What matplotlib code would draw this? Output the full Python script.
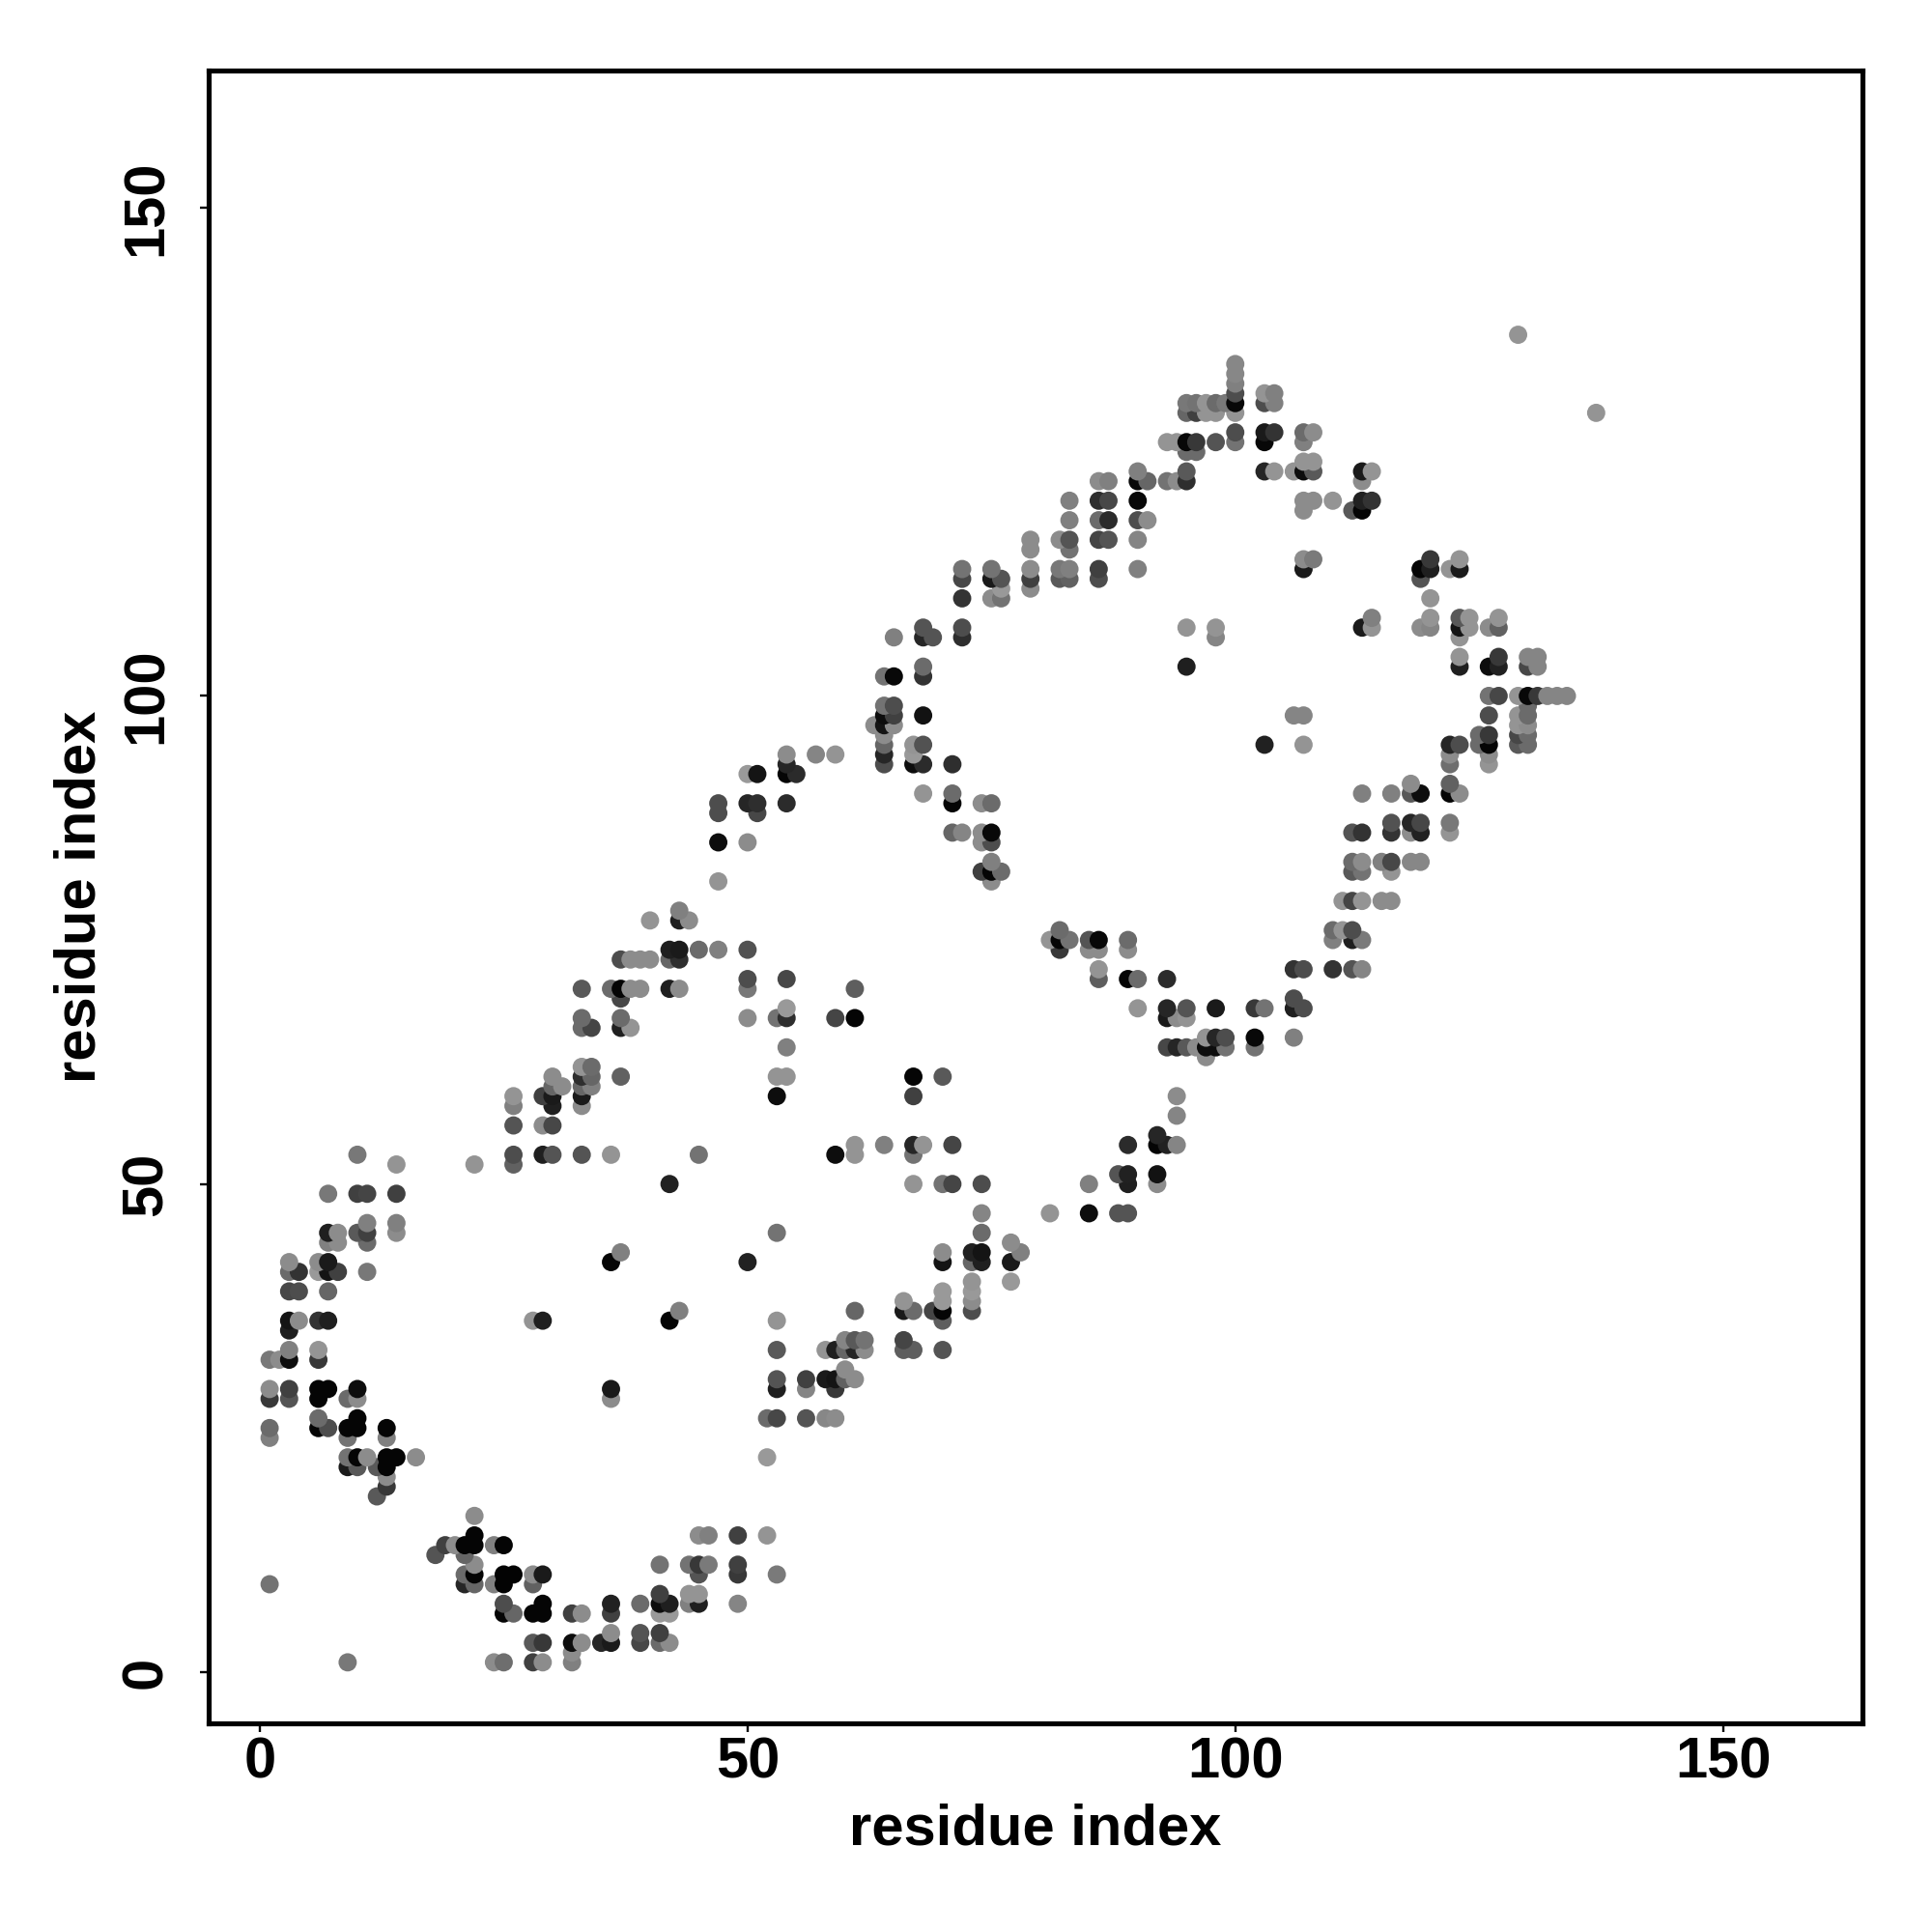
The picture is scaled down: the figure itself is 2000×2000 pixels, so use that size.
import matplotlib
matplotlib.use('Agg')
import matplotlib.pyplot as plt

# Contacts by row: row_y[i] is the residue on the y axis, row_x[i] its partners,
# row_shade[i] the grey level of each dot (0 black, 0.6 light grey)
row_y = [1, 2, 3, 4, 6, 7, 8, 9, 10, 11, 12, 13, 14, 16, 18, 19, 20, 21, 22, 24, 25, 26, 28, 29, 30, 31, 32,
         33, 34, 35, 36, 37, 38, 39, 40, 41, 42, 43, 44, 45, 46, 47, 49, 50, 51, 52, 53, 54, 55, 56, 57, 58,
         59, 60, 61, 62, 63, 64, 65, 66, 67, 68, 69, 70, 71, 72, 73, 74, 75, 76, 77, 78, 79, 81, 82, 83, 85,
         86, 87, 88, 89, 90, 91, 92, 93, 94, 95, 96, 97, 98, 99, 100, 102, 103, 104, 106, 107, 108, 110, 111,
         112, 113, 114, 115, 116, 118, 119, 120, 122, 123, 124, 125, 126, 127, 129, 130, 131, 132, 133, 134, 137]

row_x = [
    [9, 24, 25, 28, 29, 32],
    [32],
    [28, 29, 32, 33, 35, 36, 39, 41, 42],
    [36, 39, 41],
    [25, 26, 28, 29, 32, 33, 36, 41, 42],
    [25, 29, 36, 39, 41, 42, 44, 45, 49],
    [41, 44, 45],
    [1, 21, 22, 24, 25, 28],
    [21, 22, 25, 26, 28, 29, 45, 49, 53],
    [22, 41, 44, 45, 46, 49],
    [18, 21],
    [19, 20, 21, 22, 24, 25],
    [22, 45, 46, 49, 52],
    [22],
    [12],
    [13],
    [13],
    [9, 10, 12, 13],
    [9, 10, 11, 13, 14, 16, 52],
    [1, 9, 13],
    [1, 6, 7, 9, 10, 13],
    [6, 10, 52, 53, 56, 58, 59],
    [1, 3, 6, 9, 10, 36],
    [1, 3, 6, 7, 10, 36, 53, 56, 59],
    [53, 56, 58, 59, 60, 61],
    [60],
    [1, 2, 3, 6],
    [3, 6, 53, 58, 59, 60, 61, 62, 66, 67, 70],
    [60, 61, 62, 66],
    [3],
    [3, 4, 6, 7, 28, 29, 42, 53, 70],
    [43, 61, 66, 67, 69, 70, 73],
    [66, 70, 73],
    [3, 4, 7, 70, 73],
    [73, 77],
    [3, 4, 6, 7, 8, 11],
    [3, 6, 7, 36, 50, 70, 73, 74, 77],
    [37, 70, 73, 74, 78],
    [7, 8, 11, 77],
    [7, 8, 10, 11, 14, 53, 74],
    [11, 14],
    [74, 81, 85, 88, 89],
    [7, 10, 11, 14],
    [42, 67, 70, 71, 74, 85, 89, 92],
    [88, 89, 92],
    [14, 22, 26],
    [10, 26, 29, 30, 33, 36, 45, 59, 61, 67],
    [61, 64, 67, 68, 71, 89, 92, 93, 94],
    [92],
    [26, 29, 30],
    [94],
    [26, 30, 33],
    [26, 29, 30, 33, 53, 67, 94],
    [30, 31, 33, 34],
    [30, 33, 34, 37, 53, 54, 67, 70],
    [33, 34],
    [97],
    [54, 93, 94, 95, 96, 97, 98, 99, 102],
    [97, 98, 99, 102, 106],
    [33, 34, 37, 38],
    [33, 37, 50, 53, 54, 59, 61, 93, 94, 95],
    [54, 90, 93, 95, 98, 102, 103, 106, 107],
    [37, 106],
    [33, 36, 37, 38, 39, 42, 43, 50, 61],
    [50, 54, 86, 89, 90, 93],
    [86, 106, 107, 110, 112, 113],
    [37, 38, 39, 40, 42, 43],
    [42, 43, 45, 47, 50, 82, 85, 86, 89],
    [81, 82, 83, 85, 86, 89, 110, 112, 113],
    [82, 110, 111, 112],
    [40, 43, 44],
    [43],
    [111, 112, 113, 115, 116],
    [47, 75],
    [74, 75, 76, 112, 113, 116],
    [75, 112, 113, 115, 116, 118, 119],
    [47, 50, 74, 75],
    [71, 72, 74, 75, 112, 113, 116, 118, 119, 122],
    [116, 118, 119, 122],
    [47, 51],
    [47, 50, 51, 54, 71, 74, 75],
    [68, 71, 113, 116, 118, 119, 122, 123],
    [118, 122],
    [50, 51, 54, 55],
    [54, 64, 67, 68, 71, 122, 126],
    [54, 57, 59, 64, 67, 122, 126],
    [64, 67, 68, 103, 107, 122, 123, 125, 126, 129, 130],
    [64, 125, 126, 129, 130],
    [63, 64, 65, 129, 130],
    [64, 65, 68, 106, 107, 126, 129, 130],
    [64, 65, 130],
    [126, 127, 129, 130, 131, 132, 133, 134],
    [64, 65, 68],
    [68, 95, 123, 126, 127, 130, 131],
    [123, 127, 130, 131],
    [65, 68, 69, 72, 98, 123],
    [68, 72, 95, 98, 113, 114, 119, 120, 123, 124, 126, 127],
    [114, 120, 123, 124, 127],
    [72, 75, 76, 120],
    [76, 79],
    [72, 75, 76, 79, 82, 83, 86, 119],
    [72, 75, 79, 82, 83, 86, 90, 107, 119, 120, 122, 123],
    [107, 108, 120, 123],
    [79, 83],
    [79, 82, 83, 86, 87, 90],
    [83, 86, 87, 90, 91],
    [107, 112, 113],
    [83, 86, 87, 90, 107, 108, 110, 113, 114],
    [86, 87, 90, 91, 93, 94, 95, 113],
    [90, 95, 103, 104, 106, 107, 108, 113, 114],
    [107, 108],
    [95, 96],
    [93, 94, 95, 96, 98, 100, 103, 107],
    [100, 103, 104, 107, 108],
    [95, 96, 97, 98, 100, 137],
    [95, 96, 97, 98, 99, 100, 103, 104],
    [100, 103, 104],
    [100],
    [100],
    [100],
    [129],
]

row_shade = [
    [.47, .55, .43, .25, .55, .5],
    [.55],
    [.35, .22, .05, .55, .15, .1, .28, .42, .55],
    [.55, .33, .25],
    [.02, .4, .02, .02, .25, .55, .25, .6, .6],
    [.3, .02, .13, .42, .05, .12, .5, .12, .52],
    [.25, .58, .58],
    [.45, .15, .4, .5, .01, .38],
    [.42, .02, .01, .01, .55, .1, .33, .22, .48],
    [.55, .45, .45, .22, .48, .25],
    [.33, .4],
    [.25, .55, .02, .02, .5, .02],
    [.02, .55, .5, .25, .58],
    [.55],
    [.35],
    [.22],
    [.55],
    [.1, .35, .35, .02],
    [.45, .02, .55, .02, .02, .55, .6],
    [.5, .45, .5],
    [.42, .02, .3, .02, .02, .02],
    [.42, .02, .42, .28, .33, .53, .55],
    [.22, .33, .02, .42, .55, .55],
    [.55, .25, .02, .02, .05, .1, .12, .52, .22],
    [.33, .25, .1, .08, .38, .55],
    [.55],
    [.47, .55, .05, .22],
    [.5, .58, .35, .58, .12, .4, .15, .55, .37, .37, .33],
    [.52, .35, .45, .27],
    [.12],
    [.08, .55, .2, .12, .58, .12, .02, .58, .37],
    [.5, .4, .1, .42, .27, .02, .3],
    [.58, .6, .55],
    [.28, .3, .4, .6, .6],
    [.58, .6],
    [.42, .2, .6, .08, .25, .47],
    [.55, .55, .1, .02, .13, .08, .4, .12, .1],
    [.5, .55, .13, .08, .5],
    [.5, .55, .42, .55],
    [.12, .55, .35, .25, .55, .45, .42],
    [.5, .5],
    [.52, .58, .05, .33, .33],
    [.47, .25, .27, .25],
    [.13, .58, .45, .27, .3, .5, .12, .55],
    [.33, .13, .07],
    [.58, .58, .38],
    [.47, .3, .12, .33, .33, .58, .45, .05, .58, .45],
    [.58, .5, .15, .58, .27, .17, .02, .13, .52],
    [.15],
    [.33, .55, .28],
    [.52],
    [.5, .12, .55],
    [.58, .25, .1, .1, .05, .25, .55],
    [.4, .55, .4, .5],
    [.55, .18, .4, .38, .58, .58, .02, .35],
    [.58, .42],
    [.55],
    [.5, .28, .15, .35, .55, .05, .05, .45, .45],
    [.58, .15, .3, .03, .5],
    [.42, .27, .12, .58],
    [.42, .42, .55, .45, .18, .27, .02, .1, .55, .58],
    [.6, .58, .15, .33, .1, .22, .45, .12, .3],
    [.28, .3],
    [.35, .42, .02, .55, .55, .12, .55, .47, .37],
    [.3, .28, .37, .02, .42, .17],
    [.58, .2, .3, .2, .33, .52],
    [.3, .55, .55, .55, .4, .18],
    [.12, .1, .42, .5, .32, .22, .55, .55, .55],
    [.58, .02, .45, .33, .03, .42, .5, .12, .48],
    [.42, .42, .58, .3],
    [.58, .12, .55],
    [.5],
    [.58, .27, .58, .55, .55],
    [.58, .55],
    [.25, .02, .42, .35, .45, .58],
    [.5, .42, .55, .5, .28, .53, .53],
    [.05, .55, .55, .3],
    [.4, .52, .55, .03, .33, .2, .2, .55, .13, .58],
    [.32, .15, .28, .47],
    [.3, .28],
    [.3, .15, .18, .17, .02, .55, .42],
    [.58, .42, .5, .5, .35, .05, .02, .55],
    [.55, .38],
    [.6, .08, .02, .17],
    [.15, .3, .05, .17, .18, .43, .58],
    [.55, .52, .58, .15, .6, .55, .55],
    [.4, .58, .32, .13, .58, .15, .3, .42, .02, .35, .42],
    [.55, .42, .22, .28, .42],
    [.55, .08, .55, .58, .55],
    [.05, .25, .07, .52, .52, .3, .58, .42],
    [.45, .3, .42],
    [.45, .28, .58, .03, .22, .52, .52, .52],
    [.45, .03, .2],
    [.42, .12, .12, .05, .13, .28, .52],
    [.58, .22, .52, .52],
    [.5, .15, .33, .18, .52, .58],
    [.33, .3, .58, .58, .1, .58, .55, .52, .08, .58, .55, .38],
    [.5, .58, .35, .58, .58],
    [.2, .55, .45, .58],
    [.6, .55],
    [.28, .1, .33, .25, .35, .38, .3, .33],
    [.45, .45, .55, .47, .5, .25, .5, .1, .02, .12, .58, .1],
    [.55, .48, .22, .58],
    [.55, .45],
    [.55, .55, .33, .27, .33, .52],
    [.5, .42, .17, .3, .55],
    [.55, .35, .02],
    [.5, .18, .28, .03, .55, .55, .58, .13, .2],
    [.55, .5, .03, .4, .45, .55, .18, .55],
    [.5, .35, .15, .58, .58, .05, .35, .1, .58],
    [.58, .58],
    [.42, .42],
    [.58, .58, .03, .22, .33, .45, .03, .5],
    [.3, .1, .2, .42, .55],
    [.4, .25, .58, .58, .58, .58],
    [.47, .45, .58, .42, .47, .03, .3, .5],
    [.3, .58, .5],
    [.5],
    [.53],
    [.53],
    [.58],
]

xs, ys, greys = [], [], []
for y, row, shades in zip(row_y, row_x, row_shade):
    for x, s in zip(row, shades):
        xs.append(x)
        ys.append(y)
        greys.append(str(s))

plt.rcParams['font.family'] = ['Liberation Sans', 'DejaVu Sans']
plt.rcParams['font.weight'] = 'bold'

fig = plt.figure(figsize=(20, 20), dpi=100)
ax = fig.add_axes([216.3 / 2000, 1 - 1784 / 2000, (1928 - 216.3) / 2000, (1784 - 72.7) / 2000])

ax.scatter(xs, ys, s=185, c=greys, linewidths=0)

ax.set_xlim(-5.22, 164.3)
ax.set_ylim(-5.25, 164.1)
ax.set_xticks([0, 50, 100, 150])
ax.set_yticks([0, 50, 100, 150])
ax.tick_params(axis='both', length=6.5, width=1.7, labelsize=43)
ax.tick_params(axis='x', pad=3)
ax.tick_params(axis='y', pad=20)
plt.setp(ax.get_yticklabels(), rotation=90, va='center')
for spine in ax.spines.values():
    spine.set_linewidth(3.7)

ax.set_xlabel('residue index', fontsize=43, fontweight='bold', labelpad=10)
ax.set_ylabel('residue index', fontsize=43, fontweight='bold', labelpad=10)

fig.savefig('out.png', dpi=100)
